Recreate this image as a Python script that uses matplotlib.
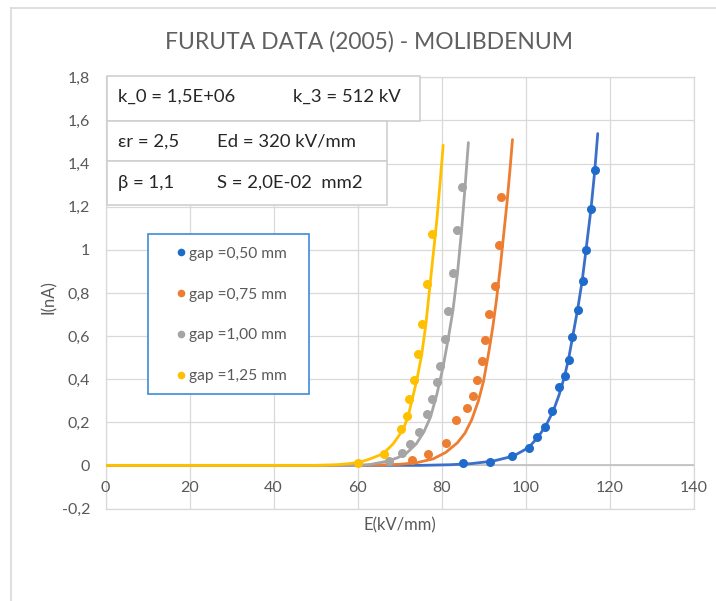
import matplotlib
matplotlib.use("Agg")
import matplotlib.pyplot as plt
from matplotlib.patches import Rectangle
from matplotlib.lines import Line2D

W, H = 716, 601
plt.rcParams['font.family'] = ['Lato', 'DejaVu Sans']

title = "FURUTA DATA (2005) - MOLIBDENUM"
x_label = "E(kV/mm)"
y_label = "I(nA)"
x_ticks = [0, 20, 40, 60, 80, 100, 120, 140]
y_ticks = [-0.2, 0.0, 0.2, 0.4, 0.6, 0.8, 1.0, 1.2, 1.4, 1.6, 1.8]
y_tick_labels = ["-0,2", "0", "0,2", "0,4", "0,6", "0,8", "1", "1,2", "1,4", "1,6", "1,8"]

series_labels = ["gap =0,50 mm", "gap =0,75 mm", "gap =1,00 mm", "gap =1,25 mm"]
point_colors = ["#1f6bcb", "#ed7d31", "#a5a5a5", "#ffc000"]
line_colors = ["#3b6fc9", "#ed7d31", "#a5a5a5", "#ffc000"]

param_rows = [
    ("k_0 = 1,5E+06", "k_3 = 512 kV"),
    ("\u03b5r = 2,5", "Ed = 320 kV/mm"),
    ("\u03b2 = 1,1", "S = 2,0E-02  mm2"),
]

# measured emission current, gap 0.50 mm
e_050 = [85.2, 91.5, 96.7, 100.8, 102.7, 104.6, 106.2, 108.0, 109.5, 110.4, 111.1, 112.4, 113.6, 114.5, 115.6, 116.6]
i_050 = [0.011, 0.017, 0.044, 0.082, 0.131, 0.178, 0.252, 0.363, 0.413, 0.487, 0.594, 0.722, 0.857, 0.998, 1.191, 1.369]
# gap 0.75 mm
e_075 = [72.9, 76.9, 81.1, 83.5, 86.1, 87.6, 88.5, 89.6, 90.4, 91.3, 92.8, 93.7, 94.2]
i_075 = [0.023, 0.054, 0.105, 0.212, 0.268, 0.320, 0.398, 0.483, 0.580, 0.704, 0.831, 1.021, 1.245]
# gap 1.00 mm
e_100 = [67.6, 70.6, 72.5, 74.6, 76.6, 77.7, 78.9, 79.6, 80.8, 81.6, 82.8, 83.6, 84.8]
i_100 = [0.019, 0.057, 0.101, 0.155, 0.237, 0.310, 0.387, 0.459, 0.588, 0.715, 0.890, 1.094, 1.289]
# gap 1.25 mm
e_125 = [60.0, 66.3, 70.4, 71.7, 72.3, 73.5, 74.5, 75.3, 76.5, 77.7]
i_125 = [0.010, 0.054, 0.167, 0.231, 0.308, 0.394, 0.515, 0.658, 0.843, 1.072]

# model curves
fit_e_050 = [0, 60, 75, 82, 87, 92.3, 97.1, 100.7, 103.0, 105.0, 106.6, 108.0, 109.3, 110.3, 111.2, 112.4, 113.5, 114.4, 115.6, 116.5, 117.2]
fit_i_050 = [0, 0, 0.0, 0.003, 0.008, 0.02, 0.043, 0.082, 0.131, 0.19, 0.252, 0.327, 0.413, 0.498, 0.594, 0.722, 0.857, 0.998, 1.191, 1.369, 1.539]
fit_e_075 = [0, 60, 66, 70, 74, 78, 81, 83.8, 85.6, 87.2, 88.8, 90.0, 91.3, 92.2, 93.1, 94.0, 94.8, 95.6, 96.3, 96.9]
fit_i_075 = [0, 0, 0.002, 0.005, 0.012, 0.03, 0.06, 0.105, 0.15, 0.212, 0.30, 0.39, 0.53, 0.64, 0.77, 0.92, 1.07, 1.22, 1.37, 1.511]
fit_e_100 = [0, 60, 63, 67.0, 69.5, 71.7, 74.0, 75.8, 77.4, 78.9, 80.4, 81.6, 82.7, 83.8, 84.8, 85.6, 86.4]
fit_i_100 = [0, 0, 0.004, 0.019, 0.035, 0.057, 0.1, 0.155, 0.225, 0.33, 0.459, 0.588, 0.715, 0.89, 1.094, 1.289, 1.497]
fit_e_125 = [0, 50, 55, 58, 60.6, 63, 66.1, 68.5, 70.9, 72.1, 74.1, 75.3, 76.3, 77.3, 78.9, 79.7, 80.4]
fit_i_125 = [0, 0, 0.003, 0.008, 0.015, 0.03, 0.054, 0.10, 0.167, 0.231, 0.394, 0.515, 0.658, 0.843, 1.14, 1.32, 1.485]

points = [(e_050, i_050), (e_075, i_075), (e_100, i_100), (e_125, i_125)]
curves = [(fit_e_050, fit_i_050), (fit_e_075, fit_i_075), (fit_e_100, fit_i_100), (fit_e_125, fit_i_125)]


def fx(px):
    return px / W


def fy(py):
    return 1 - py / H


fig = plt.figure(figsize=(W / 100, H / 100), dpi=100)
fig.patch.set_facecolor("white")

# outer chart frame
fig.add_artist(Line2D([fx(11), 1.0], [fy(8), fy(8)], color="#d9d9d9", lw=1.2))
fig.add_artist(Line2D([fx(11), fx(11)], [fy(8), 0.0], color="#d9d9d9", lw=1.2))

left, right, top, bottom = 105.5, 693.5, 77.3, 508.5
ax = fig.add_axes([fx(left), fy(bottom), (right - left) / W, (bottom - top) / H])
ax.set_xlim(0, 140)
ax.set_ylim(-0.2, 1.8)

grid_c = "#d9d9d9"
ax.grid(True, color=grid_c, lw=0.9, zorder=0)
ax.set_axisbelow(True)
for s in ax.spines.values():
    s.set_color(grid_c)
    s.set_linewidth(0.9)
ax.axhline(0, color="#bfbfbf", lw=1.2, zorder=1)

txt_c = "#595959"
ax.set_xticks(x_ticks)
ax.set_yticks(y_ticks, labels=y_tick_labels)
ax.tick_params(axis="both", length=0, labelsize=11.5, colors=txt_c)
ax.tick_params(axis="y", pad=11)
ax.tick_params(axis="x", labelbottom=False)
for t in x_ticks:
    ax.annotate(str(t), xy=(t, 0), xytext=(0, -16), textcoords="offset points",
                ha="center", va="center", fontsize=11.5, color=txt_c, annotation_clip=False)

ax.set_xlabel(x_label, fontsize=12, color=txt_c)
ax.set_ylabel(y_label, fontsize=12, color=txt_c)
ax.xaxis.set_label_coords(0.5, (bottom - 517) / (bottom - top))
ax.yaxis.set_label_coords((57 - left) / (right - left), (bottom - 296.7) / (bottom - top))

for k in range(4):
    ce, ci = curves[k]
    pe, pi = points[k]
    ax.plot(ce, ci, color=line_colors[k], lw=2.0, zorder=2 + 2 * k, solid_capstyle="round",
            solid_joinstyle="round")
    ax.plot(pe, pi, "o", color=point_colors[k], ms=6.5, mew=0, zorder=3 + 2 * k)

fig.text(fx(369), fy(42), title, ha="center", va="center", fontsize=16.5, color="#606060")

# parameter table
cells = [(106.7, 76, 420, 121), (106.7, 121, 386.7, 161), (106.7, 161, 386.7, 205)]
for (x0, y0, x1, y1) in cells:
    fig.add_artist(Rectangle((fx(x0), fy(y1)), (x1 - x0) / W, (y1 - y0) / H,
                             facecolor="white", edgecolor="#d0d0d0", lw=1.2, zorder=10))
row_y = [97, 141.5, 183]
col2_x = [292.7, 217.3, 217.3]
for r, (a, b) in enumerate(param_rows):
    fig.text(fx(118.3), fy(row_y[r]), a, ha="left", va="center", fontsize=13.3, color="#262626", zorder=11)
    fig.text(fx(col2_x[r]), fy(row_y[r]), b, ha="left", va="center", fontsize=13.3, color="#262626", zorder=11)

# legend
fig.add_artist(Rectangle((fx(148.3), fy(393.5)), (309.3 - 148.3) / W, (393.5 - 234.3) / H,
                         facecolor="white", edgecolor="#3d8bd6", lw=1.2, zorder=10))
handles = [Line2D([], [], ls="none", marker="o", ms=5.5, mew=0, color=c) for c in point_colors]
leg = fig.legend(handles, series_labels, loc="upper left", bbox_to_anchor=(fx(169), fy(239)),
                 frameon=False, fontsize=11.2, labelcolor=txt_c,
                 handlelength=0.6, handletextpad=0.2, labelspacing=1.72, borderpad=0)
leg.set_zorder(12)

fig.savefig("out.png", dpi=100, facecolor="white")
